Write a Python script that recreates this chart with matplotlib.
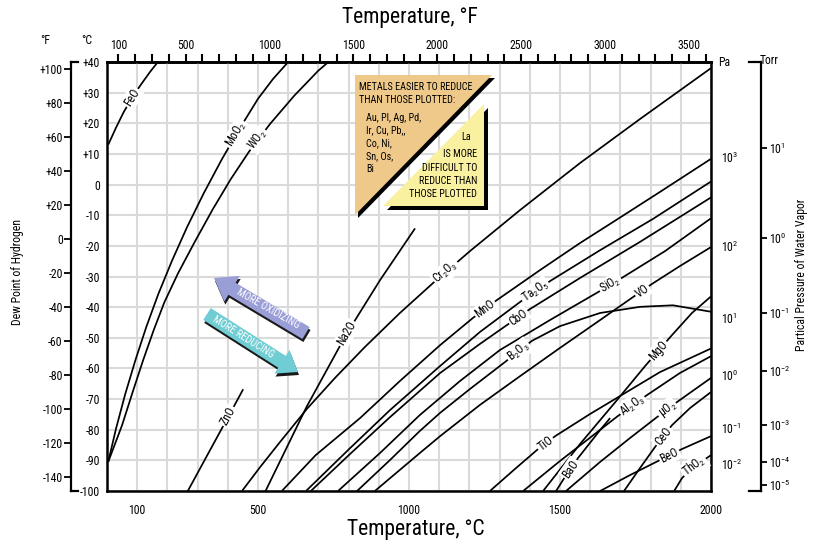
import numpy as np
import matplotlib
matplotlib.use('Agg')
import matplotlib.pyplot as plt
from matplotlib import font_manager
from matplotlib.patches import Polygon

def pick_font(cands):
    for c in cands:
        try:
            font_manager.findfont(font_manager.FontProperties(family=c), fallback_to_default=False)
            return c
        except Exception:
            pass
    return 'DejaVu Sans'

FONT = pick_font(['Liberation Sans Narrow', 'Roboto Condensed', 'Arial Narrow', 'Liberation Sans'])
plt.rcParams['font.family'] = [FONT, 'DejaVu Sans']
plt.rcParams['mathtext.fontset'] = 'custom'
plt.rcParams['mathtext.rm'] = FONT
plt.rcParams['mathtext.it'] = FONT
plt.rcParams['mathtext.default'] = 'rm'

# ---------------- data (temperature degC, dew point degC) ----------------
feo_t = [4, 30, 55, 85, 115, 142, 170]
feo_dp = [13, 18.6, 23.6, 28.7, 33.0, 36.7, 40.2]
moo2_t = [4, 30, 60, 95, 130, 170, 215, 265, 320, 380, 440, 500, 550, 600]
moo2_dp = [-90.5, -79.6, -68.5, -57, -46.5, -35.7, -24.9, -13.9, -2.9, 8.2, 18.4, 28, 34.5, 40]
wo2_t = [4, 50, 85, 120, 155, 190, 235, 290, 350, 410, 470, 540, 620, 700, 745]
wo2_dp = [-90.5, -78.5, -67.7, -57.2, -47.4, -38.4, -29, -18.8, -8.1, 1.8, 10.7, 19.8, 29, 37.2, 41]
zno_t = [262, 451]
zno_dp = [-101, -66.8]
na2o_t = [520, 661, 794, 904, 1020]
na2o_dp = [-101, -72.5, -48.6, -31.2, -14.3]
cr2o3_t = [447, 507, 573, 662, 755, 854, 970, 1080, 1202, 1368, 1566, 1765, 2000]
cr2o3_dp = [-100, -92.2, -84.0, -73.2, -63.1, -53.0, -41.9, -32.1, -21.7, -8.3, 7.0, 21.4, 38.0]
mno_t = [579, 691, 838, 970, 1103, 1212, 1291, 1434, 1566, 1676, 1831, 2000]
mno_dp = [-100, -88.3, -76.2, -64.1, -52.4, -43.5, -37.7, -27.9, -19.1, -12.2, -2.4, 8.4]
ta2o5_t = [659, 805, 937, 1103, 1235, 1368, 1467, 1633, 1808, 2000]
ta2o5_dp = [-100, -86.0, -73.6, -59.2, -48.1, -38.3, -31.5, -21.4, -11.2, 1.0]
cbo_t = [675, 805, 937, 1103, 1235, 1325, 1401, 1566, 1765, 2000]
cbo_dp = [-100, -87.9, -75.9, -61.5, -52.0, -45.8, -40.6, -30.5, -18.7, -4.2]
sio2_t = [765, 904, 1036, 1169, 1301, 1467, 1626, 1709, 1848, 2000]
sio2_dp = [-100, -87.6, -75.2, -64.1, -54.0, -44.2, -35.1, -30.2, -21.7, -11.0]
b2o3_t = [828, 937, 1036, 1103, 1202, 1318, 1407, 1500, 1633, 1765, 1874, 2000]
b2o3_dp = [-100, -89.9, -80.4, -74.5, -66.7, -57.9, -51.0, -46.2, -41.9, -39.9, -39.4, -41.5]
vo_t = [887, 1036, 1103, 1235, 1368, 1500, 1633, 1742, 1805, 1897, 2000]
vo_dp = [-100, -87.6, -82.1, -71.9, -62.5, -53.3, -44.2, -36.7, -32.4, -26.6, -20.4]
tio_t = [1268, 1351, 1424, 1484, 1599, 1699, 1831, 2000]
tio_dp = [-100, -92.8, -86.6, -82.1, -74.9, -69.0, -61.2, -53.5]
mgo_t = [1444, 1566, 1689, 1782, 1871, 1937, 2000]
mgo_dp = [-100, -84.7, -70.3, -59.2, -49.1, -41.9, -36.5]
al2o3_t = [1378, 1500, 1606, 1692, 1788, 1897, 2000]
al2o3_dp = [-100, -90.2, -82.1, -75.5, -68.7, -61.5, -56.0]
uo2_t = [1520, 1633, 1732, 1821, 1887, 2000]
uo2_dp = [-100, -90.5, -82.7, -75.9, -71.0, -63.1]
bao_t = [1487, 1510, 1560, 1633, 1666]
bao_dp = [-100, -96.4, -89.2, -80.1, -76.2]
ceo_t = [1712, 1765, 1815, 1871, 1931, 2000]
ceo_dp = [-100, -92.5, -85.6, -78.5, -72.9, -67.7]
beo_t = [1633, 1732, 1825, 1904, 2000]
beo_dp = [-100, -94.8, -90.2, -86.3, -82.1]
tho2_t = [1878, 1904, 1937, 2000]
tho2_dp = [-100, -95.8, -92.5, -88.3]

# axis tick values
c_bottom_ticks = [100, 500, 1000, 1500, 2000]
f_top_ticks = list(range(100, 3601, 100))
f_top_labels = [100, 500, 1000, 1500, 2000, 2500, 3000, 3500]
dp_c_ticks = list(range(-100, 41, 10))
dp_f_ticks = list(range(-140, 101, 20))
pa_labels = ['10$^3$', '10$^2$', '10$^1$', '10$^0$', '10$^{-1}$', '10$^{-2}$']
pa_dp = [9.0, -20.0, -43.5, -62.2, -79.4, -91.2]
torr_labels = ['10$^1$', '10$^0$', '10$^{-1}$', '10$^{-2}$', '10$^{-3}$', '10$^{-4}$', '10$^{-5}$']
torr_dp = [11.9, -17.4, -41.9, -60.8, -78.5, -90.5, -98.0]

curves = {
    'FeO': (feo_t, feo_dp), 'MoO$_2$': (moo2_t, moo2_dp), 'WO$_2$': (wo2_t, wo2_dp),
    'ZnO': (zno_t, zno_dp), 'Na2O': (na2o_t, na2o_dp), 'Cr$_2$O$_3$': (cr2o3_t, cr2o3_dp),
    'MnO': (mno_t, mno_dp), 'Ta$_2$O$_5$': (ta2o5_t, ta2o5_dp), 'CbO': (cbo_t, cbo_dp),
    'SiO$_2$': (sio2_t, sio2_dp), 'VO': (vo_t, vo_dp), 'B$_2$O$_3$': (b2o3_t, b2o3_dp),
    'TiO': (tio_t, tio_dp), 'MgO': (mgo_t, mgo_dp), 'Al$_2$O$_3$': (al2o3_t, al2o3_dp),
    'µO$_2$': (uo2_t, uo2_dp), 'BaO': (bao_t, bao_dp), 'CeO': (ceo_t, ceo_dp),
    'BeO': (beo_t, beo_dp), 'ThO$_2$': (tho2_t, tho2_dp),
}

# temperature at which each inline label sits on its curve
label_at_t = {
    'FeO': 83, 'MoO$_2$': 428, 'WO$_2$': 500, 'ZnO': 402, 'Na2O': 794,
    'Cr$_2$O$_3$': 1122, 'MnO': 1252, 'Ta$_2$O$_5$': 1418, 'CbO': 1362, 'SiO$_2$': 1667,
    'VO': 1772, 'B$_2$O$_3$': 1362, 'MgO': 1826, 'TiO': 1452, 'Al$_2$O$_3$': 1740,
    'µO$_2$': 1855, 'BaO': 1535, 'CeO': 1842, 'BeO': 1862, 'ThO$_2$': 1945,
}

W, H = 816, 544
fig = plt.figure(figsize=(W/100, H/100), dpi=100)
ax = fig.add_axes([107/W, 1-491/H, 604/W, 429/H])
ax.set_xlim(0, 2000)
ax.set_ylim(-100, 40)

ax.set_xticks(c_bottom_ticks)
ax.set_xticklabels([str(v) for v in c_bottom_ticks])
ax.set_xticks(np.arange(0, 2001, 100), minor=True)
ax.set_yticks(dp_c_ticks)
ax.set_yticklabels([('+%d' % v if v > 0 else str(v)) for v in dp_c_ticks])
ax.grid(True, which='both', color='#dadada', lw=1.5)
ax.set_axisbelow(True)
ax.tick_params(axis='x', which='both', length=0, pad=9, labelsize=8.5)
ax.tick_params(axis='y', which='both', length=0, pad=5, labelsize=8.5)
for s in ax.spines.values():
    s.set_linewidth(1.8)

for name, (t, dp) in curves.items():
    ax.plot(t, dp, color='black', lw=1.25, solid_capstyle='butt', solid_joinstyle='round', zorder=3)

for name, tl in label_at_t.items():
    t, dp = curves[name]
    yl = np.interp(tl, t, dp)
    p1 = ax.transData.transform((tl - 15, np.interp(tl - 15, t, dp)))
    p2 = ax.transData.transform((tl + 15, np.interp(tl + 15, t, dp)))
    ang = np.degrees(np.arctan2(p2[1] - p1[1], p2[0] - p1[0]))
    ax.text(tl, yl, name, rotation=ang, ha='center', va='center', rotation_mode='anchor',
            fontsize=8.5, zorder=5,
            bbox=dict(boxstyle='square,pad=0.12', fc='white', ec='none'))

c2f = lambda c: np.asarray(c) * 9 / 5 + 32
f2c = lambda f: (np.asarray(f) - 32) * 5 / 9

secx = ax.secondary_xaxis('top', functions=(c2f, f2c))
secx.set_xticks(f_top_ticks)
secx.set_xticklabels([str(v) if v in f_top_labels else '' for v in f_top_ticks])
secx.tick_params(direction='out', length=6, width=1.5, labelsize=8.5, pad=1)
secx.spines['top'].set_linewidth(2)

xl = -36/604
secl = ax.secondary_yaxis(xl, functions=(c2f, f2c))
secl.set_yticks(dp_f_ticks)
secl.set_yticklabels([('+%d' % v if v > 0 else str(v)) for v in dp_f_ticks])
secl.tick_params(direction='out', length=5, width=1.3, labelsize=8.5, pad=1)
secl.spines['left'].set_linewidth(1.6)
for yy in (0, 1):
    ax.plot([xl, xl + 7/604], [yy, yy], transform=ax.transAxes, color='black', lw=1.6, clip_on=False)

secpa = ax.secondary_yaxis('right')
secpa.set_yticks(pa_dp)
secpa.set_yticklabels(pa_labels)
secpa.tick_params(length=0, labelsize=8.5, pad=7)
secpa.spines['right'].set_visible(False)

xr = 1 + 50/604
sect = ax.secondary_yaxis(xr)
sect.set_yticks(torr_dp)
sect.set_yticklabels(torr_labels)
sect.tick_params(direction='out', length=4, width=1.3, labelsize=8.5, pad=2)
sect.spines['right'].set_linewidth(1.6)
for yy in (0, 1):
    ax.plot([xr - 12/604, xr], [yy, yy], transform=ax.transAxes, color='black', lw=1.6, clip_on=False)

def fp(x, y):
    return (x / W, 1 - y / H)

fig.text(*fp(45, 41), '°F', ha='center', va='center', fontsize=8.5)
fig.text(*fp(87, 41), '°C', ha='center', va='center', fontsize=8.5)
fig.text(*fp(718, 62), 'Pa', ha='left', va='center', fontsize=8.5)
fig.text(*fp(760, 60), 'Torr', ha='left', va='center', fontsize=8.5)
fig.text(*fp(410, 18), 'Temperature, °F', ha='center', va='center', fontsize=15.5)
fig.text(*fp(416, 530), 'Temperature, °C', ha='center', va='center', fontsize=15.5)
fig.text(*fp(18, 272), 'Dew Point of Hydrogen', rotation=90, ha='center', va='center', fontsize=8.5)
fig.text(*fp(801, 275), 'Partical Pressure of Water Vapor', rotation=90, ha='center', va='center', fontsize=8.5)

def poly(pts, color, z):
    p = Polygon([fp(x, y) for x, y in pts], closed=True, transform=fig.transFigure,
                fc=color, ec='none', zorder=z)
    fig.add_artist(p)

tan = [(355, 75), (492, 75), (355, 215)]
yel = [(484, 104), (484, 206), (383, 206)]
poly([(x + 3, y + 3) for x, y in tan], 'black', 6)
poly(tan, '#efc98a', 7)
poly([(x + 4, y + 4) for x, y in yel], 'black', 6)
poly(yel, '#f9f19f', 7)

fs_box = 7.3
fig.text(*fp(359, 87), 'METALS EASIER TO REDUCE', fontsize=fs_box, va='center', ha='left', zorder=8)
fig.text(*fp(359, 100), 'THAN THOSE PLOTTED:', fontsize=fs_box, va='center', ha='left', zorder=8)
for i, s in enumerate(['Au, Pl, Ag, Pd,', 'Ir, Cu, Pb,,', 'Co, Ni,', 'Sn, Os,', 'Bi']):
    fig.text(*fp(366, 117.5 + 13 * i), s, fontsize=fs_box, va='center', ha='left', zorder=8)
fig.text(*fp(466, 137), 'La', fontsize=fs_box, va='center', ha='center', zorder=8)
for i, s in enumerate(['IS MORE', 'DIFFICULT TO', 'REDUCE THAN', 'THOSE PLOTTED']):
    fig.text(*fp(477, 154.5 + 13.2 * i), s, fontsize=fs_box, va='center', ha='right', zorder=8)

def arrow_pts(tail, tip, bw, hw, hl):
    t = np.array(tail, float); p = np.array(tip, float)
    d = p - t; u = d / np.linalg.norm(d); n = np.array([-u[1], u[0]])
    b = p - u * hl
    return [tuple(t + n * bw / 2), tuple(b + n * bw / 2), tuple(b + n * hw / 2), tuple(p),
            tuple(b - n * hw / 2), tuple(b - n * bw / 2), tuple(t - n * bw / 2)]

ox = arrow_pts((306, 333), (214, 278), 14, 30, 21)
rd = arrow_pts((207, 314), (298, 372), 14, 28, 19)
poly([(x + 1, y + 3) for x, y in ox], '#1a1a1a', 6)
poly(ox, '#9a9ed6', 7)
poly([(x + 1, y + 3) for x, y in rd], '#1a1a1a', 6)
poly(rd, '#6fcdd3', 7)
fig.text(*fp(268, 309), 'MORE OXIDIZING', rotation=-29.5, ha='center', va='center',
         rotation_mode='anchor', color='white', fontsize=7.5, zorder=8)
fig.text(*fp(243, 337), 'MORE REDUCING', rotation=-32, ha='center', va='center',
         rotation_mode='anchor', color='white', fontsize=7.5, zorder=8)

fig.savefig('out.png', dpi=100)
